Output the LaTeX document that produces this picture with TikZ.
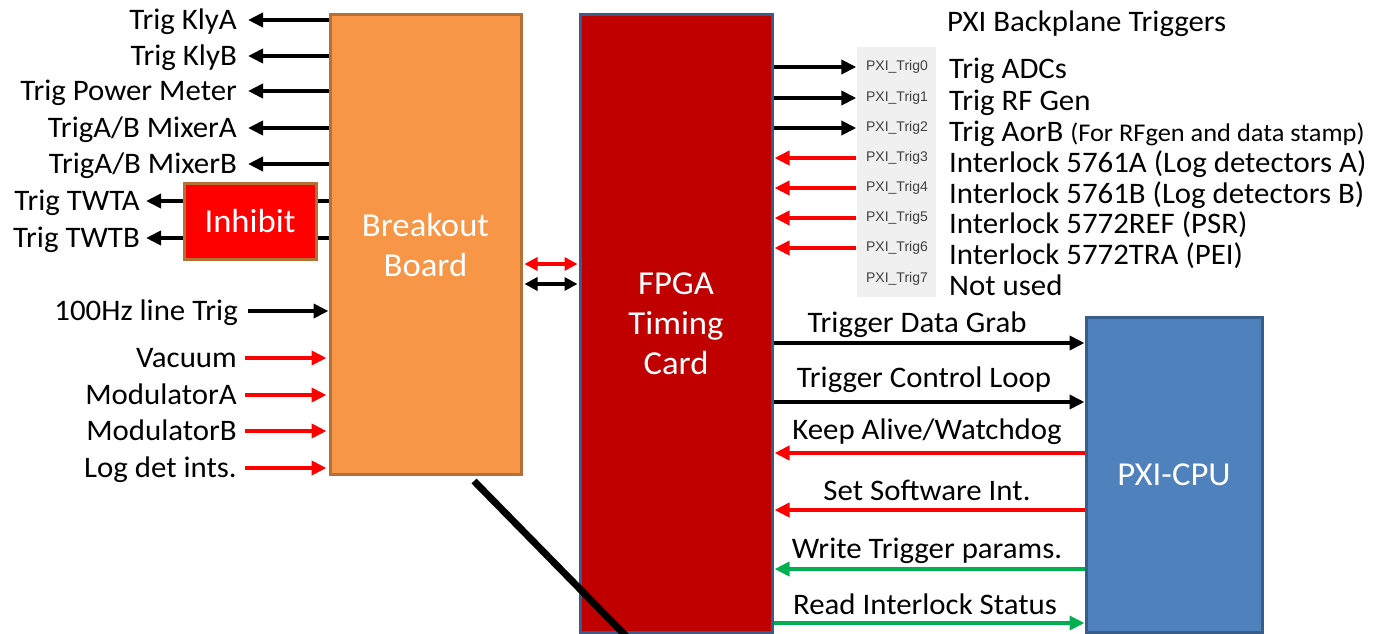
\documentclass[tikz,border=0pt]{standalone}
\usepackage{fontspec}
\setmainfont{Carlito}[FakeStretch=1.035]
\newfontfamily\pxifont{Liberation Sans}
\usetikzlibrary{arrows.meta}
\definecolor{orF}{HTML}{F79646}
\definecolor{orB}{RGB}{183,112,52}
\definecolor{fpgaF}{HTML}{C00000}
\definecolor{blB}{HTML}{385D8A}
\definecolor{cpuF}{HTML}{4F81BD}
\definecolor{inhF}{HTML}{FF0000}
\definecolor{arrR}{HTML}{FF0000}
\definecolor{arrG}{HTML}{00B050}
\definecolor{grayF}{HTML}{F0F0F0}
\definecolor{pxiT}{HTML}{404040}
\tikzset{
  box/.style={line width=3pt, text=white, align=center, inner sep=0pt},
  boxtxt/.style={font=\fontsize{33.5}{40}\selectfont},
  lab/.style={inner sep=0pt, text height=19pt, text depth=0pt, font=\fontsize{29.8}{34}\selectfont},
  pxi/.style={inner sep=0pt, text=pxiT, font=\pxifont\fontsize{14}{16}\selectfont},
  blkarr/.style={line width=4pt, -{Triangle[length=15pt,width=14pt]}},
  redarr/.style={blkarr, arrR},
  grnarr/.style={blkarr, arrG},
  blkline/.style={line width=4pt},
  dblarr/.style={line width=3.5pt, {Triangle[length=13pt,width=13pt]}-{Triangle[length=13pt,width=13pt]}}
}
\begin{document}
\begin{tikzpicture}[x=1pt,y=-1pt]
\useasboundingbox (0,0) rectangle (1373,634);
% boxes
\node[box, boxtxt, fill=orF, draw=orB, minimum width=191pt, minimum height=459pt] (bb) at (425.5,244.5) {Breakout\\Board};
\node[box, boxtxt, fill=fpgaF, draw=blB, minimum width=192pt, minimum height=617pt] (fpga) at (676,323.5) {FPGA\\Timing\\Card};
\node[box, boxtxt, fill=cpuF, draw=blB, minimum width=176pt, minimum height=315pt] (cpu) at (1174,474.5) {PXI-CPU};
\node[box, boxtxt, fill=inhF, draw=orB, minimum width=132pt, minimum height=76pt] (inh) at (250,221) {Inhibit};
\node[fill=grayF, inner sep=0pt, minimum width=79pt, minimum height=250pt] (gray) at (896,172) {};
% diagonal
\coordinate (d1) at (474,481);
\coordinate (d2) at (627,637);
\draw[line width=7pt] (d1) -- (d2);
% PXI trig labels
\foreach \i/\y in {0/67,1/98,2/128,3/158,4/188,5/218,6/248,7/279}
  \node[pxi] (p\i) at (897,\y) {PXI\_Trig\i};
\foreach \i in {0,1,2}
  \draw[blkarr] (fpga.east |- p\i) -- (gray.west |- p\i);
\foreach \i in {3,4,5,6}
  \draw[redarr] (gray.west |- p\i) -- ([xshift=1pt]fpga.east |- p\i);
% right labels
\node[lab, anchor=west] (ttl) at (947,22) {PXI Backplane Triggers};
\node[lab, anchor=west] (r0) at (949,69) {Trig ADCs};
\node[lab, anchor=west] (r1) at (949,101) {Trig RF Gen};
\node[lab, anchor=west] (r2) at (949,132) {Trig AorB {\fontsize{25.5}{30}\selectfont (For RFgen and data stamp)}};
\node[lab, anchor=west] (r3) at (949,163) {Interlock 5761A (Log detectors A)};
\node[lab, anchor=west] (r4) at (949,194) {Interlock 5761B (Log detectors B)};
\node[lab, anchor=west] (r5) at (949,224) {Interlock 5772REF (PSR)};
\node[lab, anchor=west] (r6) at (949,255) {Interlock 5772TRA (PEI)};
\node[lab, anchor=west] (r7) at (949,286) {Not used};
% left outputs
\node[lab, anchor=east] (kA) at (237,20) {Trig KlyA};
\node[lab, anchor=east] (kB) at (237,56) {Trig KlyB};
\node[lab, anchor=east] (pm) at (237,91) {Trig Power Meter};
\node[lab, anchor=east] (mA) at (237,128) {TrigA/B MixerA};
\node[lab, anchor=east] (mB) at (237,164) {TrigA/B MixerB};
\foreach \n in {kA,kB,pm,mA,mB}
  \draw[blkarr] (bb.west |- \n) -- ([xshift=11pt]\n.east);
\node[lab, anchor=east] (twA) at (140,201) {Trig TWTA};
\node[lab, anchor=east] (twB) at (140,238) {Trig TWTB};
\foreach \n in {twA,twB}{
  \draw[blkarr] (inh.west |- \n) -- ([xshift=6pt]\n.east);
  \draw[blkline] (inh.east |- \n) -- (bb.west |- \n);
}
% left inputs
\node[lab, anchor=east] (hz) at (238,311) {100Hz line Trig};
\draw[blkarr] ([xshift=10pt]hz.east) -- (bb.west |- hz);
\node[lab, anchor=east] (vac) at (237,358) {Vacuum};
\node[lab, anchor=east] (moA) at (237,395) {ModulatorA};
\node[lab, anchor=east] (moB) at (237,431) {ModulatorB};
\node[lab, anchor=east] (ldi) at (237,468) {Log det ints.};
\foreach \n in {vac,moA,moB,ldi}
  \draw[redarr] ([xshift=8pt]\n.east) -- ([xshift=-2pt]bb.west |- \n);
% breakout <-> fpga
\coordinate (dr) at (0,264);
\coordinate (dk) at (0,284);
\draw[dblarr, arrR] ([xshift=2pt]bb.east |- dr) -- ([xshift=-1pt]fpga.west |- dr);
\draw[dblarr] ([xshift=2pt]bb.east |- dk) -- ([xshift=-1pt]fpga.west |- dk);
% fpga <-> cpu
\node[lab, anchor=south] (c1) at (917,333) {Trigger Data Grab};
\node[lab, anchor=south] (c2) at (924,388) {Trigger Control Loop};
\node[lab, anchor=south] (c3) at (927,440) {Keep Alive/Watchdog};
\node[lab, anchor=south] (c4) at (927,501) {Set Software Int.};
\node[lab, anchor=south] (c5) at (927,559) {Write Trigger params.};
\node[lab, anchor=south] (c6) at (925,615) {Read Interlock Status};
\coordinate (y1) at (0,343);
\coordinate (y2) at (0,402);
\coordinate (y3) at (0,453);
\coordinate (y4) at (0,510);
\coordinate (y5) at (0,569);
\coordinate (y6) at (0,623);
\draw[blkarr] (fpga.east |- y1) -- (cpu.west |- y1);
\draw[blkarr] (fpga.east |- y2) -- (cpu.west |- y2);
\draw[redarr] (cpu.west |- y3) -- ([xshift=1pt]fpga.east |- y3);
\draw[redarr] (cpu.west |- y4) -- ([xshift=1pt]fpga.east |- y4);
\draw[grnarr] (cpu.west |- y5) -- ([xshift=1pt]fpga.east |- y5);
\draw[grnarr] (fpga.east |- y6) -- (cpu.west |- y6);
\end{tikzpicture}
\end{document}
